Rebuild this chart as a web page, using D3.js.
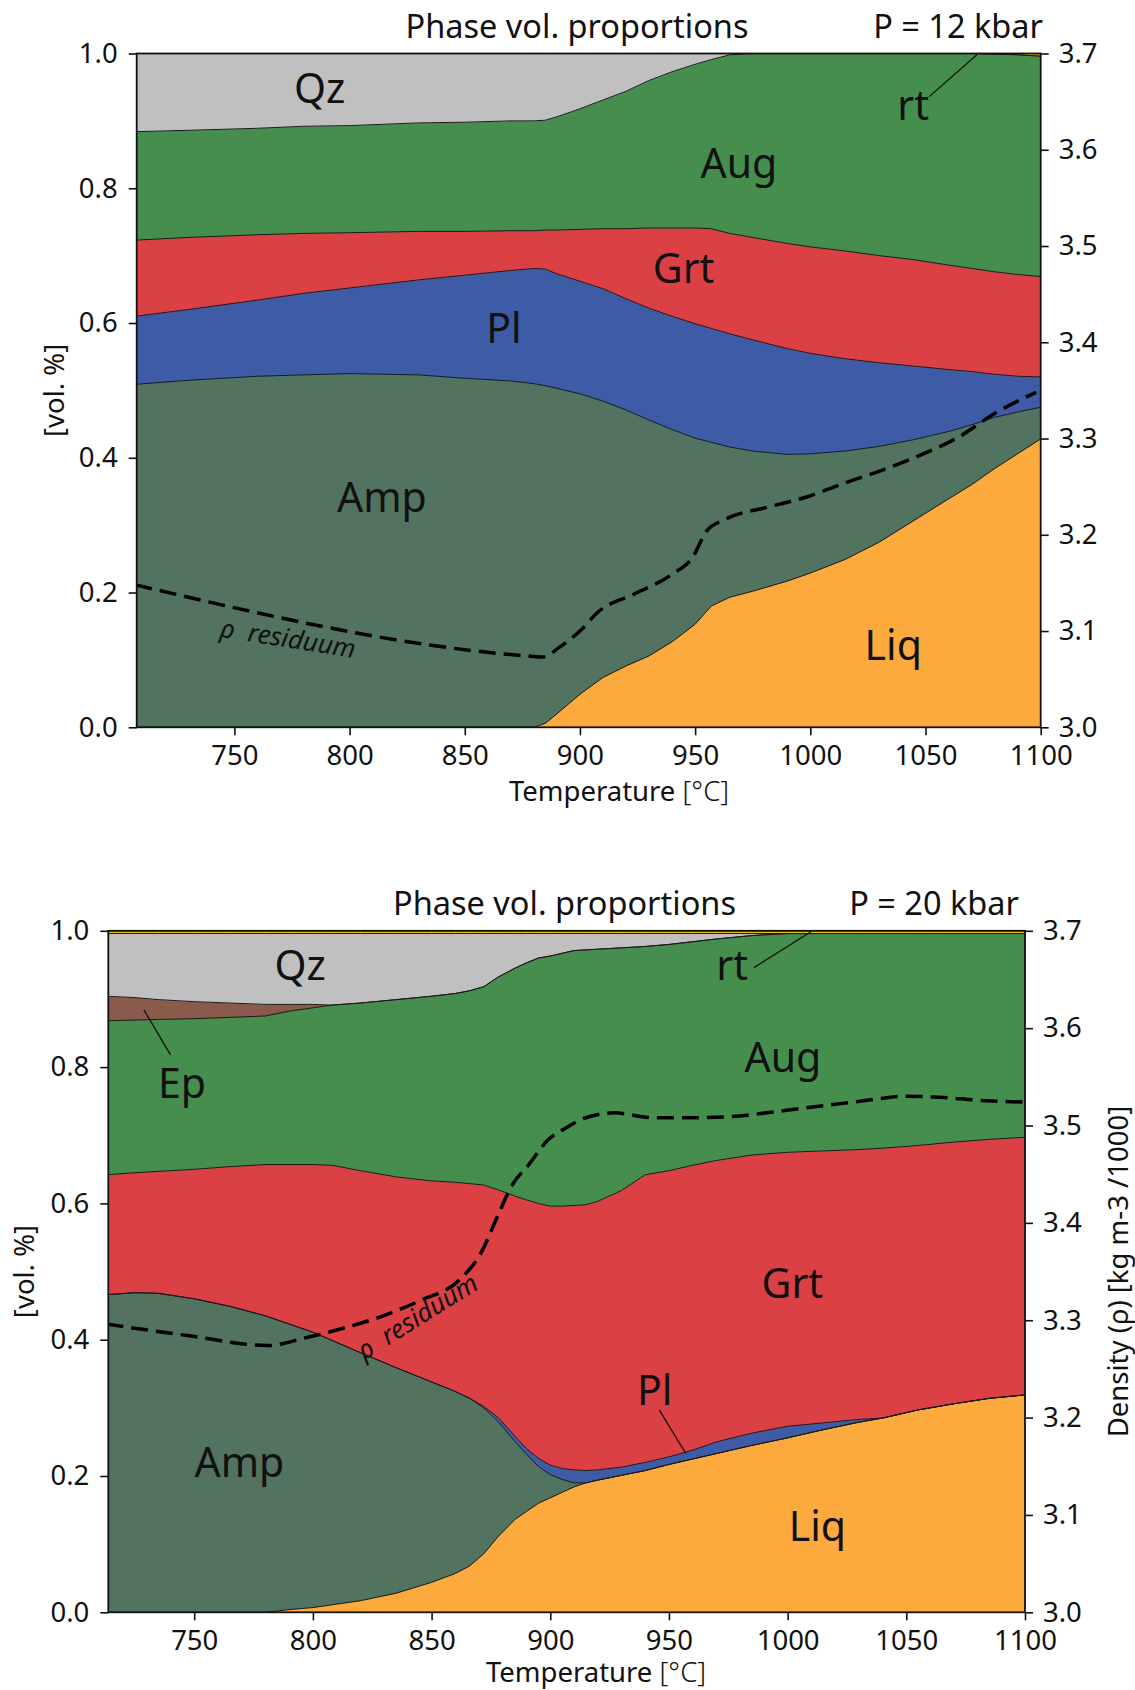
<!DOCTYPE html>
<html>
<head>
<meta charset="utf-8">
<script src="https://cdn.jsdelivr.net/npm/d3@7"></script>
<style>
body { margin: 0; background: #fff; }
text { font-family: "Noto Sans", sans-serif; }
</style>
</head>
<body>
<svg id="chart" width="1135" height="1690"></svg>
<script>
// ---------------- DATA ----------------
const phaseKeys = ["Liq", "Amp", "Pl", "Grt", "Aug", "Ep", "Qz", "rt"];
const phaseColors = ["#fcaa3d", "#51735f", "#3e5ca6", "#db4045", "#468e4e", "#8a5b4c", "#c0c0c0", "#eac21e"];

const xTicks = [750, 800, 850, 900, 950, 1000, 1050, 1100];
const volTicks = [0.0, 0.2, 0.4, 0.6, 0.8, 1.0];
const densTicks = [3.0, 3.1, 3.2, 3.3, 3.4, 3.5, 3.6, 3.7];

// P = 12 kbar : phase volume fractions
const temp12 = [707, 730, 760, 780, 800, 830, 850, 870, 880, 885, 890, 900, 910, 920, 930, 940, 950, 957, 965, 975, 990, 1000, 1015, 1030, 1045, 1060, 1070, 1080, 1090, 1100];
const liq12 = [0, 0, 0, 0, 0, 0, 0, 0, 0, .006, .020, .049, .074, .091, .106, .127, .153, .180, .193, .202, .217, .229, .249, .275, .307, .339, .360, .384, .406, .428];
const amp12 = [.509, .515, .521, .523, .525, .523, .518, .514, .510, .501, .483, .446, .410, .380, .350, .315, .276, .243, .223, .208, .188, .177, .161, .142, .120, .100, .089, .076, .062, .047];
const pl12  = [.101, .105, .113, .121, .127, .141, .153, .164, .171, .173, .170, .167, .167, .165, .166, .168, .170, .169, .168, .165, .157, .149, .137, .124, .109, .092, .079, .064, .053, .045];
const grt12 = [.113, .107, .097, .089, .082, .072, .065, .059, .056, .058, .065, .077, .089, .104, .119, .131, .142, .148, .149, .152, .156, .158, .160, .159, .158, .155, .153, .152, .151, .149];
const aug12 = [.161, .159, .158, .159, .159, .161, .162, .163, .163, .163, .168, .179, .191, .204, .219, .232, .243, .251, .265, .273, .282, .287, .293, .300, .306, .314, .319, .323, .326, .327];
const qz12  = [.116, .114, .111, .108, .107, .103, .102, .100, .100, .099, .094, .082, .069, .056, .040, .027, .016, .009, .002, 0, 0, 0, 0, 0, 0, 0, 0, 0, 0, 0];
const rt12  = [0, 0, 0, 0, 0, 0, 0, 0, 0, 0, 0, 0, 0, 0, 0, 0, 0, 0, 0, 0, 0, 0, 0, 0, 0, 0, 0, .001, .002, .004];
// P = 12 kbar : residuum density
const densTemp12 = [707, 878, 884, 891, 900, 908, 924, 940, 949, 955, 963, 982, 998, 1014, 1031, 1047, 1064, 1080, 1098];
const dens12 = [3.148, 3.074, 3.073, 3.083, 3.100, 3.120, 3.139, 3.159, 3.177, 3.204, 3.216, 3.229, 3.239, 3.253, 3.267, 3.282, 3.301, 3.326, 3.348];

// P = 20 kbar : phase volume fractions
const temp20 = [713, 725, 735, 750, 765, 780, 790, 800, 808, 820, 835, 850, 860, 866, 872, 878, 885, 890, 895, 900, 905, 910, 915, 920, 930, 940, 950, 960, 970, 985, 1000, 1015, 1030, 1040, 1055, 1070, 1085, 1100];
const liq20 = [0, 0, 0, 0, 0, 0, .004, .007, .011, .017, .028, .044, .057, .068, .086, .111, .136, .148, .160, .168, .176, .184, .190, .194, .201, .208, .217, .225, .233, .245, .256, .268, .279, .285, .297, .306, .314, .319];
const amp20 = [.466, .469, .468, .460, .449, .435, .419, .404, .388, .364, .331, .294, .267, .246, .214, .169, .115, .084, .054, .034, .019, .006, 0, 0, 0, 0, 0, 0, 0, 0, 0, 0, 0, 0, 0, 0, 0, 0];
const pl20  = [0, 0, 0, 0, 0, 0, 0, 0, 0, 0, 0, 0, 0, 0, .002, .006, .008, .008, .012, .014, .016, .019, .018, .015, .012, .012, .011, .013, .017, .018, .017, .010, .004, 0, 0, 0, 0, 0];
const grt20 = [.176, .176, .179, .190, .205, .222, .234, .246, .257, .267, .280, .295, .307, .315, .325, .334, .352, .365, .374, .380, .385, .388, .390, .394, .406, .422, .420, .418, .413, .408, .402, .399, .396, .396, .388, .384, .380, .378];
const aug20 = [.226, .224, .223, .221, .219, .218, .225, .230, .235, .246, .260, .271, .277, .283, .291, .312, .334, .348, .360, .367, .371, .374, .374, .370, .356, .335, .332, .328, .325, .322, .321, .319, .317, .315, .311, .306, .302, .299];
const ep20  = [.036, .033, .029, .025, .021, .017, .010, .005, 0, 0, 0, 0, 0, 0, 0, 0, 0, 0, 0, 0, 0, 0, 0, 0, 0, 0, 0, 0, 0, 0, 0, 0, 0, 0, 0, 0, 0, 0];
const qz20  = [.092, .094, .097, .100, .102, .104, .104, .104, .105, .102, .097, .092, .088, .084, .078, .064, .051, .043, .036, .033, .029, .025, .024, .023, .021, .019, .016, .012, .008, .003, 0, 0, 0, 0, 0, 0, 0, 0];
const rt20  = [.004, .004, .004, .004, .004, .004, .004, .004, .004, .004, .004, .004, .004, .004, .004, .004, .004, .004, .004, .004, .004, .004, .004, .004, .004, .004, .004, .004, .004, .004, .004, .004, .004, .004, .004, .004, .004, .004];
// P = 20 kbar : residuum density
const densTemp20 = [713, 748, 781, 797, 813, 829, 845, 862, 871, 878, 884, 891, 899, 907, 915, 927, 943, 959, 975, 991, 1007, 1024, 1040, 1048, 1064, 1080, 1100];
const dens20 = [3.296, 3.284, 3.274, 3.282, 3.292, 3.304, 3.320, 3.342, 3.370, 3.408, 3.439, 3.460, 3.485, 3.498, 3.508, 3.513, 3.508, 3.508, 3.509, 3.513, 3.518, 3.523, 3.528, 3.530, 3.529, 3.526, 3.524];

// ---------------- DRAWING ----------------
const svg = d3.select("#chart");
const color = d3.scaleOrdinal().domain(phaseKeys).range(phaseColors);
const FS = 27.5, TITLE_FS = 32.5, LABEL_FS = 41;

function drawPanel(p, idx) {
  const g = svg.append("g");
  const x = d3.scaleLinear().domain(p.xDomain).range([p.left, p.right]);
  const y = d3.scaleLinear().domain([0, 1]).range([p.bottom, p.top]);
  const yR = d3.scaleLinear().domain([3.0, 3.7]).range([p.bottom, p.top]);

  const keys = phaseKeys.filter(k => p.series[k]);
  const rows = p.temps.map((t, i) => {
    const r = { T: t };
    keys.forEach(k => r[k] = p.series[k][i]);
    return r;
  });
  const stacked = d3.stack().keys(keys)(rows);

  const clipId = "clip" + idx;
  svg.append("clipPath").attr("id", clipId).append("rect")
    .attr("x", p.left).attr("y", p.top).attr("width", p.right - p.left).attr("height", p.bottom - p.top);

  const plot = g.append("g").attr("clip-path", `url(#${clipId})`);
  const area = d3.area().x(d => x(d.data.T)).y0(d => y(d[0])).y1(d => y(d[1]));
  plot.selectAll("path.area").data(stacked).join("path")
    .attr("class", "area").attr("d", area)
    .attr("fill", d => color(d.key)).attr("stroke", d => color(d.key)).attr("stroke-width", 0.5);
  const edge = d3.line().x(d => x(d.data.T)).y(d => y(d[1]));
  plot.selectAll("path.edge").data(stacked).join("path")
    .attr("class", "edge").attr("d", edge)
    .attr("fill", "none").attr("stroke", "#1a1a1a").attr("stroke-width", 1);

  // residuum density (dashed)
  const dens = p.densTemp.map((t, i) => ({ T: t, d: p.dens[i] }));
  plot.append("path").datum(dens)
    .attr("d", d3.line().x(d => x(d.T)).y(d => yR(d.d)).curve(d3.curveMonotoneX))
    .attr("fill", "none").attr("stroke", "#000").attr("stroke-width", 3.5)
    .attr("stroke-dasharray", "17,8");

  // leader lines
  p.leaders.forEach(l => {
    g.append("line").attr("x1", x(l[0])).attr("y1", y(l[1])).attr("x2", x(l[2])).attr("y2", y(l[3]))
      .attr("stroke", "#111").attr("stroke-width", 1.3);
  });

  // phase labels
  p.labels.forEach(l => {
    g.append("text").attr("x", x(l.T)).attr("y", y(l.v))
      .attr("text-anchor", "middle").attr("font-size", LABEL_FS).attr("fill", "#111").text(l.text);
  });

  // rho residuum label
  const rl = p.rhoLabel;
  g.append("text")
    .attr("transform", `translate(${x(rl.T)},${y(rl.v)}) rotate(${rl.rot})`)
    .attr("text-anchor", "middle").attr("dy", "0.35em")
    .attr("font-size", 26).attr("font-style", "italic").attr("fill", "#111")
    .text("\u03c1\u00a0\u00a0residuum");

  // frame
  g.append("rect").attr("x", p.left).attr("y", p.top)
    .attr("width", p.right - p.left).attr("height", p.bottom - p.top)
    .attr("fill", "none").attr("stroke", "#111").attr("stroke-width", 1.8);

  function styleAxis(a) {
    a.select(".domain").remove();
    a.selectAll("text").attr("font-family", "Noto Sans").attr("font-size", FS).attr("fill", "#111");
    a.selectAll("line").attr("stroke", "#111").attr("stroke-width", 1.6);
  }
  const ax = g.append("g").attr("transform", `translate(0,${p.bottom})`)
    .call(d3.axisBottom(x).tickValues(xTicks).tickFormat(d3.format("d")).tickSize(8).tickPadding(10));
  styleAxis(ax);
  const ayl = g.append("g").attr("transform", `translate(${p.left},0)`)
    .call(d3.axisLeft(y).tickValues(volTicks).tickFormat(d3.format(".1f")).tickSize(8).tickPadding(11));
  styleAxis(ayl);
  const ayr = g.append("g").attr("transform", `translate(${p.right},0)`)
    .call(d3.axisRight(yR).tickValues(densTicks).tickFormat(d3.format(".1f")).tickSize(8).tickPadding(10));
  styleAxis(ayr);

  // titles
  g.append("text").attr("x", p.titleX).attr("y", p.titleY).attr("text-anchor", "middle")
    .attr("font-size", TITLE_FS).attr("fill", "#111").text("Phase vol. proportions");
  g.append("text").attr("x", p.pX).attr("y", p.titleY).attr("text-anchor", "end")
    .attr("font-size", TITLE_FS).attr("fill", "#111").text(p.pText);

  // axis titles
  const xl = g.append("text").attr("x", p.xLabelX).attr("y", p.xLabelY).attr("text-anchor", "middle")
    .attr("font-size", FS).attr("fill", "#111");
  xl.append("tspan").text("Temperature ");
  xl.append("tspan").attr("font-weight", 300).text("[\u00b0C]");
  g.append("text").attr("transform", `translate(${p.yLabelX},${(p.top + p.bottom) / 2}) rotate(-90)`)
    .attr("text-anchor", "middle").attr("dy", "0.35em")
    .attr("font-size", FS).attr("fill", "#111").text("[vol. %]");
  if (p.rightLabel) {
    g.append("text").attr("transform", `translate(${p.rightLabelX},${(p.top + p.bottom) / 2}) rotate(-90)`)
      .attr("text-anchor", "middle").attr("dy", "0.35em")
      .attr("font-size", FS).attr("fill", "#111").text(p.rightLabel);
  }
}

drawPanel({
  left: 136.7, right: 1040.7, top: 53.5, bottom: 727.3, xDomain: [707.6, 1100],
  temps: temp12,
  series: { Liq: liq12, Amp: amp12, Pl: pl12, Grt: grt12, Aug: aug12, Qz: qz12, rt: rt12 },
  densTemp: densTemp12, dens: dens12,
  labels: [
    { text: "Qz", T: 787, v: 0.926 }, { text: "Aug", T: 969, v: 0.815 },
    { text: "rt", T: 1044.6, v: 0.901 }, { text: "Grt", T: 945, v: 0.660 },
    { text: "Pl", T: 867, v: 0.571 }, { text: "Amp", T: 814, v: 0.320 },
    { text: "Liq", T: 1036, v: 0.100 }
  ],
  leaders: [[1051.6, 0.936, 1072.3, 0.998]],
  rhoLabel: { T: 773.3, v: 0.132, rot: 9 },
  titleX: 577, titleY: 38, pX: 1043, pText: "P = 12 kbar",
  xLabelX: 619, xLabelY: 801, yLabelX: 54
}, 0);

drawPanel({
  left: 108.3, right: 1025, top: 930.8, bottom: 1612.3, xDomain: [713.8, 1100],
  temps: temp20,
  series: { Liq: liq20, Amp: amp20, Pl: pl20, Grt: grt20, Aug: aug20, Ep: ep20, Qz: qz20, rt: rt20 },
  densTemp: densTemp20, dens: dens20,
  labels: [
    { text: "Qz", T: 794.6, v: 0.928 }, { text: "Ep", T: 744.8, v: 0.754 },
    { text: "Aug", T: 998, v: 0.793 }, { text: "rt", T: 976.6, v: 0.928 },
    { text: "Grt", T: 1002, v: 0.461 }, { text: "Pl", T: 944, v: 0.304 },
    { text: "Liq", T: 1012.5, v: 0.104 }, { text: "Amp", T: 769, v: 0.199 }
  ],
  leaders: [[728.8, 0.884, 740.0, 0.818], [985.8, 0.946, 1009.8, 0.9987], [945.9, 0.297, 957.1, 0.233]],
  rhoLabel: { T: 844, v: 0.434, rot: -32 },
  titleX: 564.5, titleY: 915, pX: 1019, pText: "P = 20 kbar",
  xLabelX: 596, xLabelY: 1682, yLabelX: 24,
  rightLabel: "Density (\u03c1) [kg m-3 /1000]", rightLabelX: 1118
}, 1);
</script>
</body>
</html>
